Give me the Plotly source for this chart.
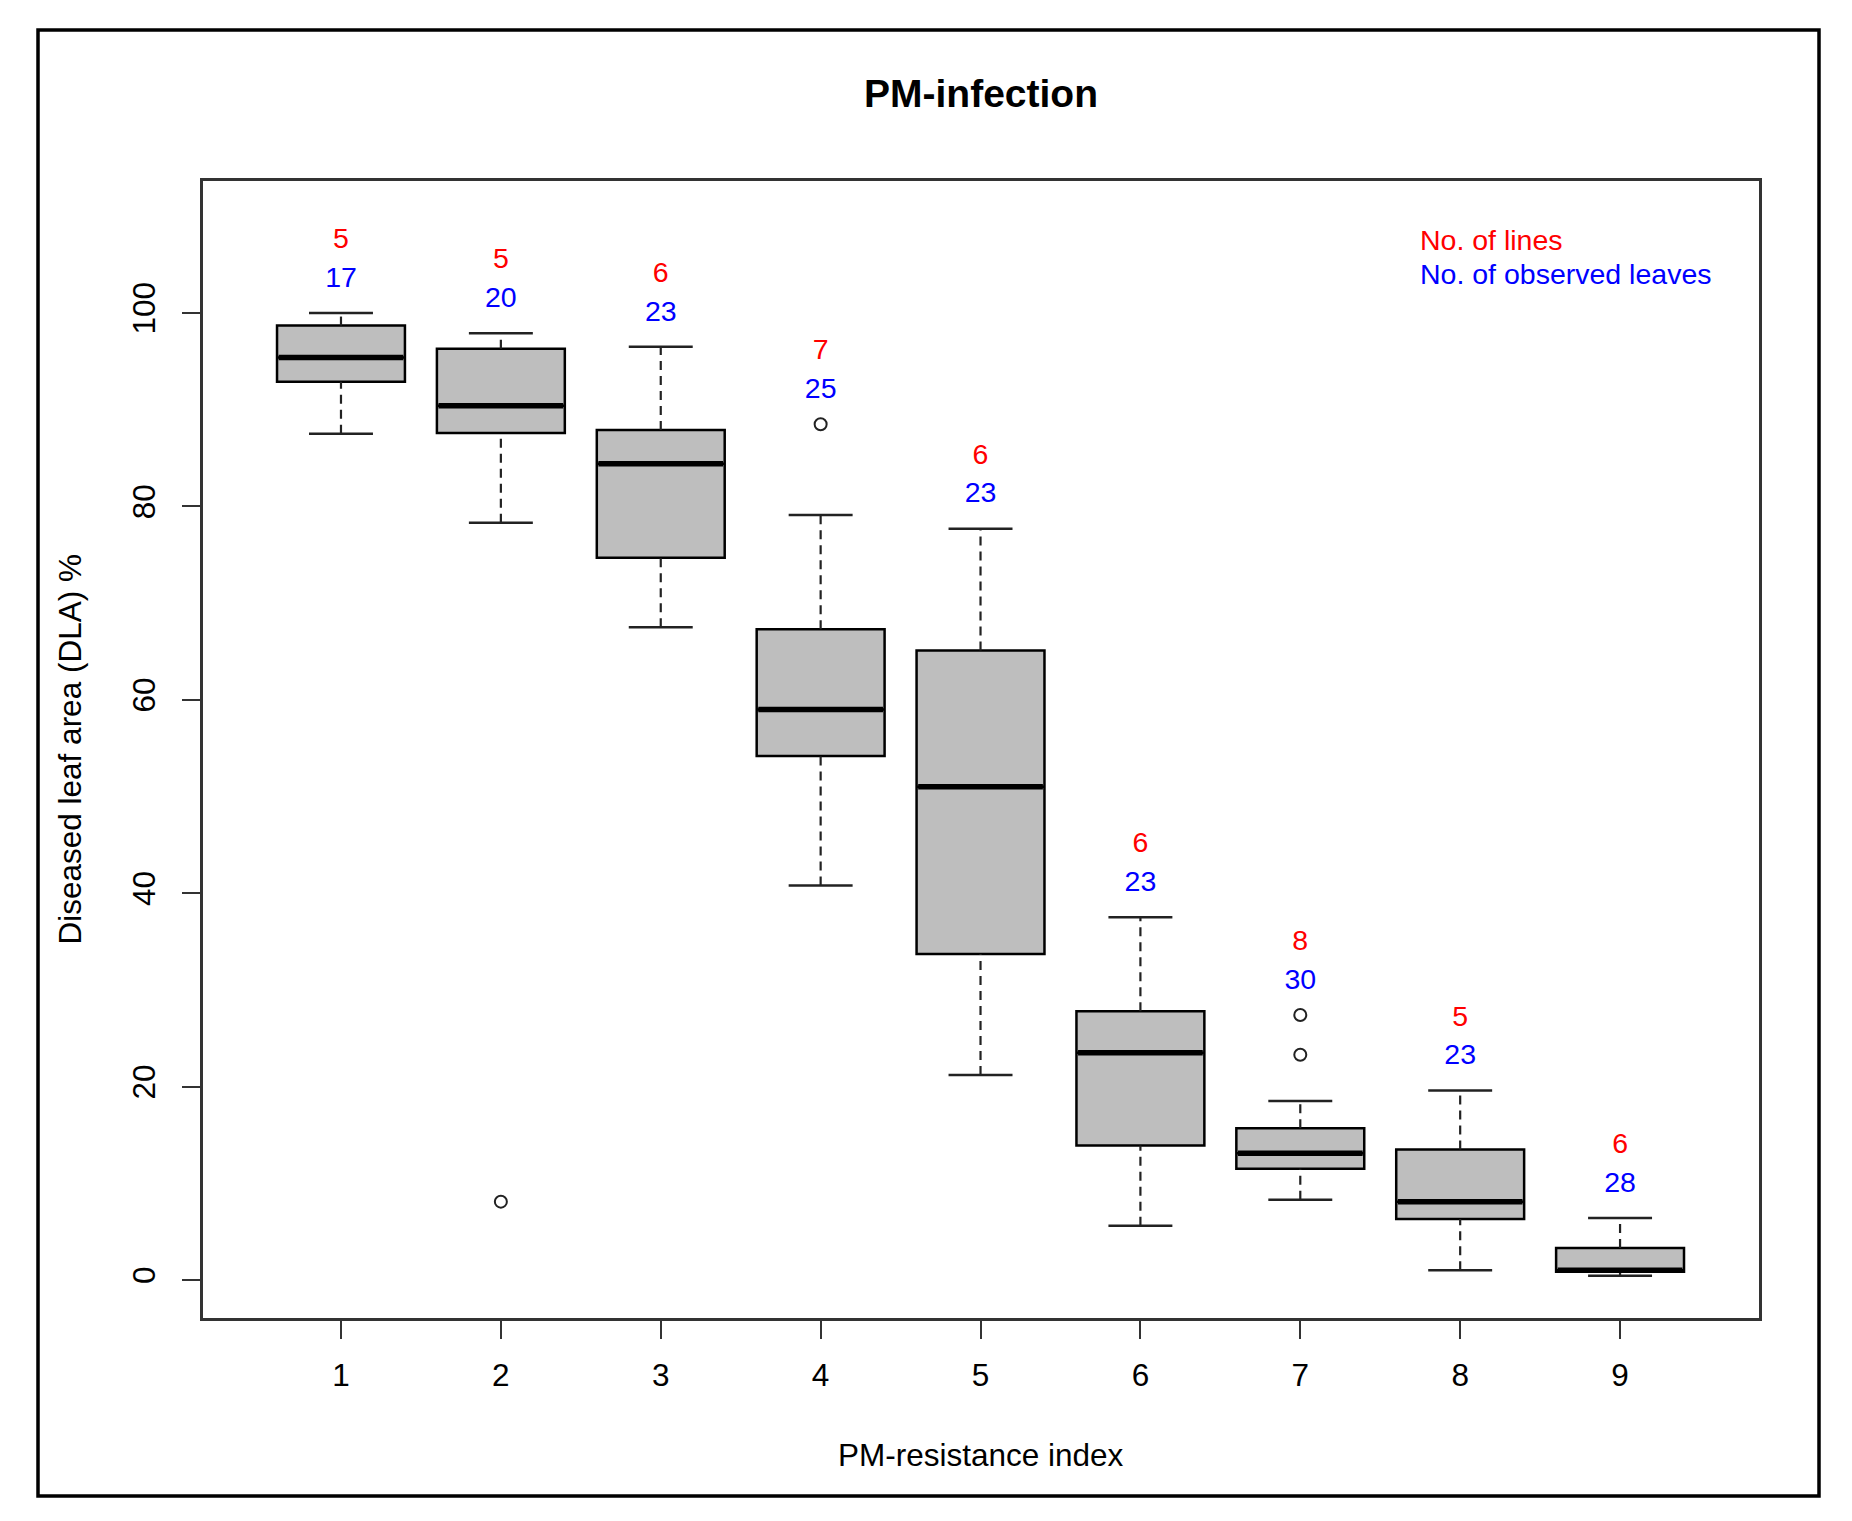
import plotly.graph_objects as go

# ---- data ----
categories = [1, 2, 3, 4, 5, 6, 7, 8, 9]
q1 = [92.9, 87.6, 74.7, 54.2, 33.7, 13.9, 11.5, 6.3, 0.85]
median = [95.4, 90.4, 84.4, 59.0, 51.0, 23.5, 13.1, 8.1, 1.0]
q3 = [98.7, 96.3, 87.9, 67.3, 65.1, 27.8, 15.7, 13.5, 3.3]
lower_whisker = [87.5, 78.3, 67.5, 40.8, 21.2, 5.6, 8.3, 1.0, 0.45]
upper_whisker = [100.0, 97.9, 96.5, 79.1, 77.7, 37.5, 18.5, 19.6, 6.4]
outlier_x = [2, 4, 7, 7]
outlier_y = [8.1, 88.5, 27.4, 23.3]
n_lines = [5, 5, 6, 7, 6, 6, 8, 5, 6]
n_leaves = [17, 20, 23, 25, 23, 23, 30, 23, 28]
y_ticks = [0, 20, 40, 60, 80, 100]

FONT = "Liberation Sans"
BOX_W = 0.8
STAPLE_HALF = BOX_W * 0.5 / 2

fig = go.Figure()

# box bodies (whiskers drawn separately, dashed like R)
fig.add_trace(go.Box(
    x=categories, q1=q1, median=median, q3=q3,
    lowerfence=q1, upperfence=q3,
    width=BOX_W, whiskerwidth=0,
    fillcolor="#BEBEBE", line=dict(color="black", width=2.5),
    boxpoints=False, showlegend=False, hoverinfo="skip",
))

# dashed whiskers
wx, wy = [], []
for c, lo, a, b, hi in zip(categories, lower_whisker, q1, q3, upper_whisker):
    wx += [c, c, None, c, c, None]
    wy += [b, hi, None, lo, a, None]
fig.add_trace(go.Scatter(x=wx, y=wy, mode="lines",
                         line=dict(color="#222222", width=2.2, dash="9px,6px"),
                         showlegend=False, hoverinfo="skip"))

# staples
sx, sy = [], []
for c, lo, hi in zip(categories, lower_whisker, upper_whisker):
    sx += [c - STAPLE_HALF, c + STAPLE_HALF, None, c - STAPLE_HALF, c + STAPLE_HALF, None]
    sy += [hi, hi, None, lo, lo, None]
fig.add_trace(go.Scatter(x=sx, y=sy, mode="lines",
                         line=dict(color="#222222", width=2.5),
                         showlegend=False, hoverinfo="skip"))

# thick medians
mx, my = [], []
for c, m in zip(categories, median):
    mx += [c - BOX_W / 2 + 0.01, c + BOX_W / 2 - 0.01, None]
    my += [m, m, None]
fig.add_trace(go.Scatter(x=mx, y=my, mode="lines",
                         line=dict(color="black", width=5.5),
                         showlegend=False, hoverinfo="skip"))

# outliers
fig.add_trace(go.Scatter(x=outlier_x, y=outlier_y, mode="markers",
                         marker=dict(symbol="circle-open", size=12, color="#222222",
                                     line=dict(color="#222222", width=2)),
                         showlegend=False, hoverinfo="skip"))

# counts above each box
top_val = []
for c, hi in zip(categories, upper_whisker):
    m = hi
    for ox, oy in zip(outlier_x, outlier_y):
        if ox == c and oy > m:
            m = oy
    top_val.append(m)

fig.add_trace(go.Scatter(x=categories, y=[v + 3.45 for v in top_val], mode="text",
                         text=[str(v) for v in n_leaves],
                         textfont=dict(family=FONT, size=28.5, color="#0000FF"),
                         showlegend=False, hoverinfo="skip"))
fig.add_trace(go.Scatter(x=categories, y=[v + 7.45 for v in top_val], mode="text",
                         text=[str(v) for v in n_lines],
                         textfont=dict(family=FONT, size=28.5, color="#FF0000"),
                         showlegend=False, hoverinfo="skip"))

L, R, T, B = 203, 93, 181, 203
W, H = 1852, 1521
pw, ph = W - L - R, H - T - B

def px2paper_x(px):
    return (px - L) / pw

def px2paper_y(py):
    return (H - B - py) / ph

fig.update_layout(
    width=W, height=H, autosize=False,
    margin=dict(l=L, r=R, t=T, b=B),
    paper_bgcolor="white", plot_bgcolor="white",
    font=dict(family=FONT, size=31.5, color="black"),
    title=dict(text="<b>PM-infection</b>", x=0.5, xref="paper",
               y=1 - 93 / H, yref="container", yanchor="middle", xanchor="center",
               font=dict(family=FONT, size=39, color="black")),
    xaxis=dict(range=[0.137, 9.869], tickvals=categories,
               ticktext=[str(c) for c in categories],
               ticks="outside", ticklen=18, tickwidth=2, tickcolor="#333333",
               showgrid=False, zeroline=False, showline=True, mirror=True,
               linecolor="#333333", linewidth=2.5, automargin=False,
               ticklabelstandoff=9,
               tickfont=dict(family=FONT, size=31.5, color="black")),
    yaxis=dict(range=[-3.93, 113.65], tickvals=y_ticks,
               ticktext=[str(v) for v in y_ticks], tickangle=-90,
               ticks="outside", ticklen=18, tickwidth=2, tickcolor="#333333",
               showgrid=False, zeroline=False, showline=True, mirror=True,
               linecolor="#333333", linewidth=2.5, automargin=False,
               ticklabelstandoff=15,
               tickfont=dict(family=FONT, size=31.5, color="black")),
)

# axis titles
fig.add_annotation(text="PM-resistance index", xref="paper", yref="paper",
                   x=0.5, y=px2paper_y(1455), xanchor="center", yanchor="middle",
                   showarrow=False, font=dict(family=FONT, size=31.5, color="black"))
fig.add_annotation(text="Diseased leaf area (DLA) %", xref="paper", yref="paper",
                   x=px2paper_x(69), y=0.5, xanchor="center", yanchor="middle",
                   textangle=-90, showarrow=False,
                   font=dict(family=FONT, size=31.5, color="black"))

# legend-like labels
fig.add_annotation(text="No. of lines", xref="paper", yref="paper",
                   x=px2paper_x(1418), y=px2paper_y(240), xanchor="left", yanchor="middle",
                   showarrow=False, font=dict(family=FONT, size=28.5, color="#FF0000"))
fig.add_annotation(text="No. of observed leaves", xref="paper", yref="paper",
                   x=px2paper_x(1418), y=px2paper_y(274), xanchor="left", yanchor="middle",
                   showarrow=False, font=dict(family=FONT, size=28.5, color="#0000FF"))

# outer frame
fig.add_shape(type="rect", xref="paper", yref="paper",
              x0=px2paper_x(38), x1=px2paper_x(1819),
              y0=px2paper_y(1496), y1=px2paper_y(30),
              line=dict(color="black", width=3.5), fillcolor="rgba(0,0,0,0)",
              layer="above")

fig.write_html("out.html")
